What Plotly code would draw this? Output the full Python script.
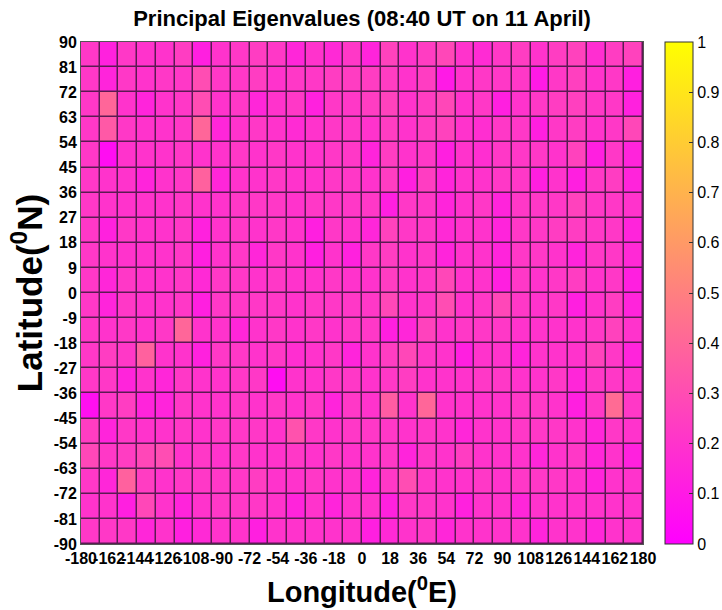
import plotly.graph_objects as go

# Cell centres (12 deg longitude x 9 deg latitude bins)
lon_centers = [-174 + 12 * i for i in range(30)]
lat_centers_north_to_south = [85.5 - 9 * j for j in range(20)]

lon_ticks = list(range(-180, 181, 18))
lat_ticks = list(range(-90, 91, 9))
cbar_ticks = [0, 0.1, 0.2, 0.3, 0.4, 0.5, 0.6, 0.7, 0.8, 0.9, 1]
cbar_ticktext = ["0", "0.1", "0.2", "0.3", "0.4", "0.5", "0.6", "0.7", "0.8", "0.9", "1"]

# Principal eigenvalues, rows from 90N (top) to 90S (bottom), columns -180E .. 180E
eigen_rows = [
    [0.22,0.13,0.22,0.20,0.20,0.24,0.12,0.20,0.22,0.24,0.22,0.15,0.20,0.16,0.22, 0.14,0.26,0.20,0.24,0.28,0.20,0.17,0.22,0.24,0.20,0.24,0.26,0.18,0.24,0.26],
    [0.22,0.14,0.22,0.20,0.22,0.22,0.30,0.22,0.22,0.24,0.20,0.22,0.22,0.24,0.24, 0.24,0.24,0.20,0.24,0.10,0.20,0.22,0.22,0.22,0.10,0.22,0.25,0.20,0.22,0.12],
    [0.22,0.40,0.20,0.14,0.20,0.22,0.30,0.20,0.22,0.15,0.20,0.22,0.13,0.22,0.22, 0.24,0.26,0.20,0.24,0.28,0.20,0.22,0.12,0.20,0.22,0.24,0.25,0.22,0.22,0.13],
    [0.22,0.35,0.22,0.20,0.20,0.22,0.40,0.15,0.20,0.22,0.20,0.17,0.20,0.22,0.22, 0.20,0.24,0.20,0.24,0.26,0.20,0.18,0.22,0.22,0.12,0.22,0.24,0.20,0.22,0.28],
    [0.22,0.05,0.20,0.20,0.20,0.22,0.20,0.20,0.22,0.20,0.22,0.20,0.20,0.22,0.22, 0.14,0.24,0.20,0.22,0.12,0.20,0.18,0.22,0.22,0.22,0.20,0.26,0.12,0.22,0.14],
    [0.22,0.20,0.20,0.14,0.20,0.22,0.38,0.15,0.20,0.20,0.22,0.20,0.20,0.22,0.22, 0.20,0.24,0.12,0.24,0.14,0.20,0.20,0.22,0.22,0.12,0.20,0.12,0.22,0.24,0.14],
    [0.22,0.20,0.20,0.20,0.20,0.22,0.20,0.20,0.22,0.22,0.22,0.20,0.22,0.22,0.22, 0.22,0.12,0.22,0.22,0.14,0.20,0.22,0.14,0.22,0.22,0.22,0.26,0.22,0.22,0.20],
    [0.22,0.13,0.22,0.20,0.20,0.22,0.13,0.20,0.22,0.20,0.22,0.20,0.12,0.22,0.20, 0.15,0.26,0.22,0.22,0.16,0.20,0.20,0.14,0.22,0.22,0.24,0.24,0.22,0.22,0.14],
    [0.22,0.20,0.20,0.20,0.20,0.22,0.12,0.20,0.22,0.15,0.22,0.20,0.12,0.20,0.13, 0.22,0.24,0.20,0.22,0.14,0.20,0.20,0.14,0.22,0.22,0.20,0.14,0.22,0.22,0.16],
    [0.22,0.15,0.22,0.20,0.20,0.22,0.16,0.22,0.22,0.20,0.22,0.20,0.20,0.22,0.20, 0.20,0.24,0.20,0.22,0.28,0.20,0.20,0.12,0.22,0.20,0.22,0.24,0.20,0.22,0.12],
    [0.22,0.14,0.22,0.20,0.20,0.22,0.12,0.22,0.22,0.22,0.22,0.20,0.22,0.22,0.22, 0.22,0.28,0.20,0.22,0.30,0.20,0.22,0.28,0.22,0.20,0.22,0.12,0.20,0.24,0.14],
    [0.22,0.20,0.22,0.20,0.22,0.40,0.20,0.20,0.15,0.20,0.22,0.20,0.22,0.20,0.22, 0.22,0.12,0.15,0.26,0.20,0.22,0.22,0.22,0.20,0.20,0.20,0.20,0.22,0.26,0.20],
    [0.22,0.24,0.22,0.38,0.20,0.20,0.13,0.22,0.22,0.20,0.22,0.18,0.20,0.22,0.14, 0.20,0.24,0.28,0.22,0.20,0.12,0.20,0.20,0.14,0.20,0.20,0.20,0.26,0.22,0.14],
    [0.22,0.22,0.14,0.20,0.15,0.22,0.20,0.20,0.22,0.22,0.05,0.20,0.20,0.22,0.22, 0.20,0.22,0.24,0.20,0.20,0.20,0.22,0.22,0.20,0.20,0.22,0.15,0.22,0.22,0.20],
    [0.06,0.22,0.24,0.14,0.14,0.22,0.20,0.20,0.22,0.20,0.22,0.20,0.22,0.14,0.22, 0.20,0.36,0.20,0.40,0.20,0.20,0.20,0.20,0.22,0.22,0.20,0.12,0.22,0.42,0.22],
    [0.24,0.14,0.22,0.20,0.20,0.22,0.20,0.22,0.22,0.22,0.20,0.32,0.22,0.20,0.22, 0.22,0.22,0.20,0.22,0.20,0.15,0.20,0.20,0.22,0.22,0.22,0.20,0.15,0.22,0.20],
    [0.28,0.22,0.24,0.28,0.30,0.20,0.22,0.20,0.22,0.20,0.20,0.22,0.20,0.22,0.20, 0.20,0.22,0.14,0.22,0.20,0.24,0.20,0.20,0.20,0.15,0.20,0.22,0.15,0.20,0.13],
    [0.22,0.15,0.38,0.24,0.20,0.22,0.22,0.22,0.22,0.24,0.20,0.20,0.22,0.20,0.20, 0.14,0.22,0.30,0.22,0.20,0.20,0.22,0.20,0.22,0.22,0.22,0.20,0.14,0.20,0.20],
    [0.20,0.20,0.12,0.28,0.20,0.14,0.20,0.22,0.22,0.22,0.20,0.14,0.20,0.14,0.20, 0.20,0.13,0.22,0.22,0.20,0.13,0.20,0.20,0.15,0.20,0.20,0.20,0.20,0.20,0.20],
    [0.22,0.22,0.22,0.15,0.20,0.12,0.16,0.20,0.20,0.12,0.20,0.20,0.20,0.20,0.20, 0.12,0.16,0.20,0.22,0.15,0.20,0.20,0.20,0.20,0.14,0.20,0.20,0.15,0.20,0.20],
]

z = eigen_rows[::-1]
lat_centers = lat_centers_north_to_south[::-1]

FONT = "Liberation Sans, Arial, sans-serif"

fig = go.Figure(
    go.Heatmap(
        x=lon_centers,
        y=lat_centers,
        z=z,
        zmin=0,
        zmax=1,
        colorscale=[[0, "#ff00ff"], [1, "#ffff00"]],
        xgap=1.5,
        ygap=1.5,
        colorbar=dict(
            x=1.039,
            xanchor="left",
            y=0.5,
            yanchor="middle",
            len=1.0,
            lenmode="fraction",
            thickness=28,
            thicknessmode="pixels",
            outlinecolor="#333333",
            outlinewidth=1,
            tickmode="array",
            tickvals=cbar_ticks,
            ticktext=cbar_ticktext,
            ticks="inside",
            ticklen=4,
            tickcolor="#333333",
            tickfont=dict(family=FONT, size=16, color="black"),
            xpad=0,
            ypad=0,
        ),
        hovertemplate="Lon %{x}<br>Lat %{y}<br>%{z}<extra></extra>",
    )
)

fig.update_layout(
    width=722,
    height=610,
    margin=dict(l=81, r=79, t=42, b=66, autoexpand=False),
    paper_bgcolor="white",
    plot_bgcolor="#5a1a52",
    title=dict(
        text="<b>Principal Eigenvalues (08:40 UT on 11 April)</b>",
        x=(81 + 643) / 2 / 722,
        xanchor="center",
        y=1 - 18 / 610,
        yanchor="middle",
        font=dict(family=FONT, size=22, color="black"),
    ),
    font=dict(family=FONT, color="black"),
)

fig.update_xaxes(
    range=[-180, 180],
    tickmode="array",
    tickvals=lon_ticks,
    ticktext=[f"<b>{t}</b>" for t in lon_ticks],
    tickangle=0,
    tickfont=dict(family=FONT, size=16, color="black"),
    ticks="",
    showgrid=False,
    zeroline=False,
    showline=True,
    linecolor="#555555",
    linewidth=1,
    mirror=True,
    automargin=False,
    title=dict(
        text="<b>Longitude(<sup>0</sup>E)</b>",
        font=dict(family=FONT, size=29, color="black"),
        standoff=15,
    ),
)

fig.update_yaxes(
    range=[-90, 90],
    tickmode="array",
    tickvals=lat_ticks,
    ticktext=[f"<b>{t}</b>" for t in lat_ticks],
    tickfont=dict(family=FONT, size=16, color="black"),
    ticks="",
    showgrid=False,
    zeroline=False,
    showline=True,
    linecolor="#555555",
    linewidth=1,
    mirror=True,
    automargin=False,
    title=dict(
        text="<b>Latitude(<sup>0</sup>N)</b>",
        font=dict(family=FONT, size=35, color="black"),
        standoff=0,
    ),
)

fig.write_html(
    "out.html",
    config={"displayModeBar": False},
    post_script="document.body.style.margin='0';document.body.style.padding='0';",
)
